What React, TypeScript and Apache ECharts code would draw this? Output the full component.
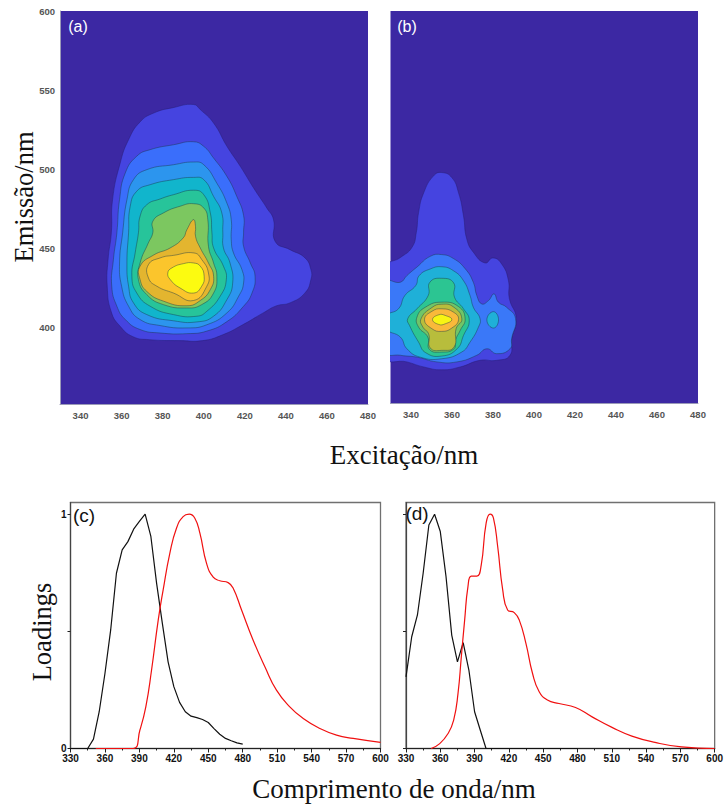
import React, { useEffect, useRef } from "react";
import * as echarts from "echarts";

// Contour outlines: [excitation nm, emission nm]
const contourA1 = [[395,541],[398.3,537.8],[404.8,529.3],[411.3,514.6],[417.8,502],[424.3,488.3],[430.7,475.7],[434,468.3],[434.8,454.6],[442,449.4],[449.3,444.2],[452.2,436.8],[452.2,430.5],[449.3,422.1],[442,415.8],[435.5,414],[429,409.5],[419,402],[409.3,395.7],[399.5,392],[388,392],[373.5,392.6],[365.5,394.5],[359.3,401],[355,410],[353,426.3],[353.4,443],[355,460],[355.6,481],[359.3,504],[363.4,518.8],[369,530],[375.6,535.6],[385,539]];
const contourA2 = [[395,517.5],[400,514.6],[404.8,507.2],[411.3,495.6],[416.1,483],[419.4,471],[419.4,460],[419.4,451.5],[422.7,441],[425,432.6],[423.5,422],[419.4,413.7],[411.3,404],[401.5,398],[391.8,396.4],[378.8,396.8],[369,399],[361.8,405.3],[357.7,413.7],[355.2,426.3],[356,443],[357.7,460],[359,481],[361.8,497.8],[367.4,508.4],[373.9,512.5],[385.3,515.6]];
const contourA3 = [[395,504.7],[400,503],[406.4,491.3],[411.3,478.7],[413.4,468.3],[413.4,455.7],[414.5,447.3],[418.6,436.8],[419.4,428.4],[417,420],[411.3,409.5],[401.5,402],[391.8,400],[378.8,401.5],[369,405.3],[363.4,413.7],[360,426.3],[359,441],[360.5,460],[362.6,481],[365.8,493.6],[372.3,499.9],[385.3,503]];
const contourA4 = [[395,495],[400,493.6],[404.8,483],[408.8,472.6],[409.3,460],[409.6,450.5],[412.8,441],[414.1,428.4],[411.3,417.9],[404.8,407.4],[396.7,403.8],[385.3,404.5],[372.3,408.4],[365.8,415.8],[363.4,426.3],[362.6,441],[363.4,460],[364.2,476.8],[367.4,486.3],[373.9,490.4],[385.3,493.6]];
const contourA5 = [[395,486.9],[400,484.1],[403.2,472.6],[404,460],[404.8,450.5],[409.6,439],[411,430.5],[408,420],[401.5,410.5],[396.7,407.4],[385.3,408.4],[373.9,413.7],[367.4,422],[365,432.6],[366.6,447.3],[368.2,460],[369,470.5],[372.3,477.8],[378.8,481.4],[385.3,484.1]];
const contourA6 = [[395,478.4],[400,475.7],[402,468.3],[402.3,451.5],[404.8,441],[406.4,432.6],[404.8,422],[399,414.7],[391.8,412.6],[380.4,414.7],[372.3,421],[368.2,430.5],[369,441],[373,453.6],[375.2,460],[375.2,467.3],[380.4,472.6],[388.5,476.8]];
const contourA7 = [[395,468.3],[396,464],[396,457.8],[398.3,450.5],[402.3,441],[404.8,432.6],[403.2,424.2],[398.3,417.3],[391.8,414],[380.4,416.9],[372.3,423],[369,430.5],[369,439],[375.6,446],[383.7,450.5],[390,456.8],[391.8,462]];
const contourA8 = [[395.3,447.3],[399,443.2],[402.3,434.7],[401.5,426.3],[395,417.3],[385.3,422],[377.2,426.3],[373.1,431.5],[373.1,440],[378.8,444.2],[385.3,445.8]];
const contourA9 = [[395,441],[398.3,439],[400.2,432.6],[399,426.3],[395,422],[388.5,425.2],[383.7,430.5],[382.5,434.7],[384.5,437.9],[390.2,440.6]];

const contourB1 = [[328,438],[334.8,444],[340.5,450.5],[342.6,460],[343.7,472.5],[346.2,485],[351,495.7],[355,497.8],[359.9,494.6],[363.2,485],[365.6,470.5],[367.2,455.8],[370.4,447.4],[376.1,440.6],[380,443.8],[384.2,440],[387.5,429.7],[388,418],[391.4,405.3],[389.1,392.8],[388.3,382.2],[381.8,379],[373.7,379],[364,374.8],[355,373],[346.2,374.8],[338,378],[328,381]];
const contourB2 = [[328,428.4],[334.8,428.4],[338,432.6],[342.9,438],[349.4,444.8],[355,445.9],[360.7,443.4],[366.4,437],[370.4,428.4],[372.1,420],[374.5,414.7],[377.8,416.8],[380.5,421],[382.6,415.8],[386.6,412.6],[391,405.3],[389.1,392.8],[388.3,386.3],[381.8,383.2],[377,386.3],[372.1,382.2],[362.4,378],[352.6,378],[342.9,381],[334.8,382.2],[328,384.3]];
const contourB3 = [[328,407],[333.9,411.6],[337,420],[342.3,426.3],[344,432.6],[349.4,436.8],[355,438.2],[360.7,435.7],[365.6,429.4],[368.8,420],[370.4,412.6],[373.7,405.3],[372.9,400],[368.8,390.5],[364.7,384.2],[355,380],[344.5,381],[338,386.3],[334.8,393.7],[328,399]];
const contourB3b = [[380.2,409.8],[382.7,404.6],[380.2,399.4],[377,404.6]];
const contourB4 = [[338.4,405.3],[342.9,411.6],[348.4,420],[349.2,428.4],[355,430.9],[360.8,428],[361.2,419],[365.6,411.6],[368.4,404.2],[365.6,394.7],[362.5,386.3],[355,381.7],[347.2,383.8],[343.7,390.5],[339.3,401]];
const contourB5 = [[342.9,406.3],[347,412.6],[355,415.8],[363.2,413],[366.4,405.3],[364,397.9],[361.6,391.6],[361,386.3],[355,384.2],[349,385.9],[348.2,393.7],[343.7,400]];
const contourB6 = [[344.9,405.3],[350.2,412.4],[355,414.5],[360.7,412.8],[364.8,405.3],[362,399],[361,387.4],[355,385.3],[349.4,386.8],[348.6,395.8],[345.8,400]];
const contourB7 = [[346.6,404.8],[350.2,410],[355,411.6],[360.7,409.5],[363.2,404.8],[359.9,399.4],[355,397.3],[350.2,399]];
const contourB8 = [[350.5,404.8],[353.5,407.8],[356.7,407.4],[359.9,404.8],[356.7,402.1],[353.5,401.7]];

const levelsA = [contourA1, contourA2, contourA3, contourA4, contourA5, contourA6, contourA7, contourA8, contourA9];
const coloursA = ["#4544e0", "#3a6efb", "#2c95ee", "#11b5cc", "#27c49a", "#7cc760", "#e3b52f", "#fbc52c", "#fcfb10"];
const levelsB = [contourB1, contourB2, contourB3, contourB3b, contourB4, contourB5, contourB6, contourB7, contourB8];
const coloursB = ["#4544e0", "#3a78f8", "#1fb0d8", "#1fb0d8", "#2cc592", "#70c568", "#b8bd3c", "#f9b93a", "#f8f413"];

// Loadings, panel (c)
const excC = [[330,0],[345,0],[350,0.04],[355,0.157],[360,0.32],[365,0.506],[370,0.748],[375,0.848],[380,0.883],[385,0.936],[390,0.969],[395,1],[400,0.905],[405,0.705],[410,0.534],[415,0.37],[420,0.264],[425,0.197],[430,0.157],[435,0.138],[440,0.132],[445,0.124],[450,0.111],[455,0.085],[460,0.061],[465,0.043],[470,0.033],[475,0.024],[480,0.019]];
const emiC = [[352,0],[384.6,0],[390.4,0.078],[395.6,0.178],[400.6,0.335],[406.4,0.548],[410.7,0.677],[416.5,0.833],[422.3,0.94],[428.1,0.99],[433.4,1],[438.3,0.983],[442.7,0.919],[448.5,0.79],[454.3,0.731],[460,0.716],[467.3,0.708],[471.7,0.684],[479,0.591],[489,0.463],[499.3,0.349],[509.4,0.249],[521,0.178],[532.7,0.128],[547.2,0.085],[561.7,0.057],[576.2,0.043],[600,0.026]];
// Loadings, panel (d)
const excD = [[330,0.306],[335,0.477],[340,0.57],[345,0.748],[350,0.954],[355,1],[360,0.926],[365,0.734],[370,0.484],[375,0.37],[380,0.452],[385,0.335],[390,0.157],[395,0.078],[400,0],[480,0]];
const emiD = [[352,0],[359.5,0.021],[366.8,0.064],[371.7,0.121],[375.5,0.235],[378.4,0.392],[381.3,0.548],[384.2,0.691],[387.1,0.736],[392,0.736],[395.8,0.783],[400.1,0.962],[403.6,1],[406.5,0.983],[410.2,0.862],[414.6,0.677],[418.9,0.591],[424.7,0.58],[429.1,0.548],[434.9,0.449],[440.7,0.32],[446.5,0.242],[453.7,0.207],[463.8,0.192],[478.3,0.175],[492.8,0.135],[510.2,0.09],[527.6,0.053],[547.8,0.026],[571,0.007],[600,0]];

const contourXTicks = [340, 360, 380, 400, 420, 440, 460, 480];
const contourYTicks = [400, 450, 500, 550, 600];
const loadingTicks = [0, 0.5, 1];
const loadingLabels = [0, 1];

const SANS = "'Liberation Sans', Arial, sans-serif";
const SERIF = "'Liberation Serif', 'Times New Roman', serif";
const BG = "#3c28a3";

function contourAxes(gridIndex: number, showY: boolean) {
  return {
    x: {
      type: "value", gridIndex, min: 330, max: 480,
      axisLine: { show: true, onZero: false, lineStyle: { color: "#9a9ab8", width: 1 } },
      axisTick: { show: false }, splitLine: { show: false },
      axisLabel: { customValues: contourXTicks, color: "#555", fontFamily: SANS, fontSize: 9.5, fontWeight: "bold", margin: 6, hideOverlap: false },
    },
    y: {
      type: "value", gridIndex, min: 352, max: 600,
      axisLine: { show: showY, onZero: false, lineStyle: { color: "#9a9ab8", width: 1 } },
      axisTick: { show: false }, splitLine: { show: false },
      axisLabel: { show: showY, customValues: contourYTicks, color: "#555", fontFamily: SANS, fontSize: 9.5, fontWeight: "bold", margin: 5 },
    },
  };
}

function loadingAxes(gridIndex: number, showY: boolean) {
  return {
    x: {
      type: "value", gridIndex, min: 330, max: 600, interval: 30,
      axisLine: { show: true, onZero: false, lineStyle: { color: "#222", width: 1.2 } },
      axisTick: { show: true, length: 4, inside: false, lineStyle: { color: "#222" } },
      minorTick: { show: true, splitNumber: 2, length: 2, lineStyle: { color: "#222" } },
      splitLine: { show: false },
      axisLabel: { color: "#111", fontFamily: SANS, fontSize: 10, fontWeight: "bold", margin: 5, hideOverlap: false },
    },
    y: {
      type: "value", gridIndex, min: 0, max: 1.05,
      axisLine: { show: true, onZero: false, lineStyle: { color: "#444", width: 1.2 } },
      axisTick: { show: true, length: 3, customValues: loadingTicks, lineStyle: { color: "#222" } },
      splitLine: { show: false },
      axisLabel: { show: showY, customValues: loadingLabels, color: "#111", fontFamily: SANS, fontSize: 10, fontWeight: "bold", margin: 4 },
    },
  };
}

function contourSeries(axisIndex: number, levels: number[][][], colours: string[]) {
  return {
    type: "custom", xAxisIndex: axisIndex, yAxisIndex: axisIndex, clip: true, silent: true,
    data: levels.map((_, i) => [i]),
    renderItem: (params: any, api: any) => {
      const i = params.dataIndex;
      return {
        type: "polygon",
        shape: { points: levels[i].map((p) => api.coord(p)), smooth: 0.5 },
        style: { fill: colours[i], stroke: i === 0 ? "rgba(40,30,120,0.5)" : "rgba(25,55,70,0.45)", lineWidth: 1 },
      };
    },
  };
}

function lineSeries(axisIndex: number, data: number[][], color: string, smooth: number | boolean) {
  return {
    type: "line", xAxisIndex: axisIndex, yAxisIndex: axisIndex, data, showSymbol: false, symbol: "none",
    smooth, clip: true, silent: true, lineStyle: { color, width: 1.2 },
  };
}

function label(text: string, x: number, y: number, font: number, fill: string, family: string, rotation = 0) {
  return {
    type: "text", x, y, rotation, silent: true,
    style: { text, fill, font: `${font}px ${family}`, textAlign: "center", textVerticalAlign: "middle", verticalAlign: "middle" },
  };
}

export default function App() {
  const ref = useRef<HTMLDivElement>(null);
  useEffect(() => {
    const chart = echarts.init(ref.current!, undefined, { renderer: "svg" });
    const a = contourAxes(0, true);
    const b = contourAxes(1, false);
    const c = loadingAxes(2, true);
    const d = loadingAxes(3, false);
    chart.setOption({
      animation: false,
      backgroundColor: "#fff",
      grid: [
        { left: 60, top: 11, width: 308, height: 393, show: true, backgroundColor: BG, borderWidth: 0 },
        { left: 390.5, top: 11, width: 307.5, height: 392, show: true, backgroundColor: BG, borderWidth: 0 },
        { left: 70.5, top: 502.5, width: 310, height: 246, show: true, borderColor: "#707070", borderWidth: 1.3 },
        { left: 406, top: 502.5, width: 311, height: 246, show: true, borderColor: "#707070", borderWidth: 1.3 },
      ],
      xAxis: [a.x, b.x, c.x, d.x],
      yAxis: [a.y, b.y, c.y, d.y],
      series: [
        contourSeries(0, levelsA, coloursA),
        contourSeries(1, levelsB, coloursB),
        lineSeries(2, excC, "#111", false),
        lineSeries(2, emiC, "#f01010", 0.5),
        lineSeries(3, excD, "#111", false),
        lineSeries(3, emiD, "#f01010", 0.5),
      ],
      graphic: [
        label("(a)", 78, 26, 16, "#fff", SANS),
        label("(b)", 407, 26, 16, "#fff", SANS),
        label("(c)", 84, 515, 19, "#111", SANS),
        label("(d)", 417, 513, 19, "#111", SANS),
        label("Emissão/nm", 24, 197, 26.5, "#111", SERIF, Math.PI / 2),
        label("Excitação/nm", 404, 455, 27, "#111", SERIF),
        label("Loadings", 42, 632, 26.5, "#111", SERIF, Math.PI / 2),
        label("Comprimento de onda/nm", 394, 789, 27, "#111", SERIF),
      ],
    });
    return () => chart.dispose();
  }, []);
  return <div ref={ref} style={{ position: "absolute", left: 0, top: 0, width: 726, height: 807 }} />;
}
